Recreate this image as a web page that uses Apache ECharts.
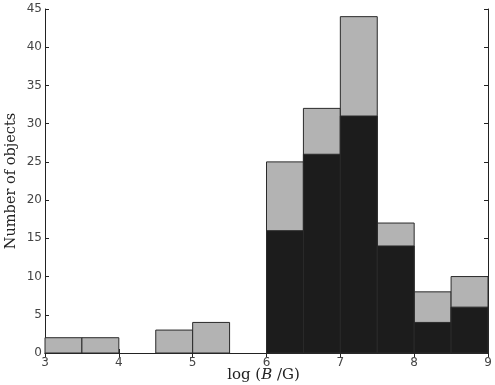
<!DOCTYPE html>
<html>
<head>
<meta charset="utf-8">
<style>
  html, body { margin: 0; padding: 0; background: #fff; }
  #chart { width: 495px; height: 385px; }
</style>
<script src="https://cdn.jsdelivr.net/npm/echarts@6/dist/echarts.min.js"></script>
</head>
<body>
<div id="chart"></div>
<script>
// bin edges (log B/G), width 0.5
const binStart = [3.0, 3.5, 4.5, 5.0, 6.0, 6.5, 7.0, 7.5, 8.0, 8.5];
const binEnd = [3.5, 4.0, 5.0, 5.5, 6.5, 7.0, 7.5, 8.0, 8.5, 9.0];
// total counts (grey) and subset counts (black)
const totalCounts = [2, 2, 3, 4, 25, 32, 44, 17, 8, 10];
const subsetCounts = [0, 0, 0, 0, 16, 26, 31, 14, 4, 6];

const xTicks = [3, 4, 5, 6, 7, 8, 9];
const yTicks = [0, 5, 10, 15, 20, 25, 30, 35, 40, 45];

const frame = "#222";

const rectItem = (fill) => (params, api) => {
  const p0 = api.coord([api.value(0), 0]);
  const p1 = api.coord([api.value(1), api.value(2)]);
  if (api.value(2) <= 0) return null;
  return {
    type: "rect",
    shape: { x: p0[0], y: p1[1], width: p1[0] - p0[0], height: p0[1] - p1[1] },
    style: { fill: fill, stroke: "#2a2a2a", lineWidth: 1 }
  };
};

const chartDom = echarts.init(document.getElementById("chart"));
chartDom.setOption({
  animation: false,
  grid: { left: 45, right: 7, top: 9, bottom: 32, outerBoundsMode: "none", containLabel: false },
  xAxis: [
    {
      type: "value",
      min: 3,
      max: 9,
      interval: 1,
      axisLine: { lineStyle: { color: frame, width: 1 } },
      axisTick: { inside: true, length: 4, lineStyle: { color: frame } },
      splitLine: { show: false },
      axisLabel: {
        color: "#444",
        fontFamily: "DejaVu Sans",
        fontSize: 12,
        margin: 4,
        formatter: v => (xTicks.includes(v) ? String(v) : "")
      },
      name: "{n|log (}{i|B}{n| /G)}",
      nameLocation: "middle",
      nameGap: 15,
      nameMoveOverlap: false,
      nameTextStyle: {
        padding: [0, 6, 0, 0],
        rich: {
          n: { fontFamily: "DejaVu Serif", fontSize: 15, color: "#222" },
          i: { fontFamily: "DejaVu Serif", fontStyle: "italic", fontSize: 15, color: "#222" }
        }
      }
    },
    {
      type: "value",
      position: "top",
      min: 3,
      max: 9,
      interval: 1,
      axisLine: { lineStyle: { color: frame, width: 1 } },
      axisTick: { inside: true, length: 4, lineStyle: { color: frame } },
      axisLabel: { show: false },
      splitLine: { show: false }
    }
  ],
  yAxis: [
    {
      type: "value",
      min: 0,
      max: 45,
      interval: 5,
      axisLine: { show: true, lineStyle: { color: frame, width: 1 } },
      axisTick: { show: true, inside: true, length: 4, lineStyle: { color: frame } },
      splitLine: { show: false },
      axisLabel: {
        color: "#444",
        fontFamily: "DejaVu Sans",
        fontSize: 12,
        margin: 3
      },
      name: "Number of objects",
      nameLocation: "middle",
      nameGap: 26,
      nameMoveOverlap: false,
      nameTextStyle: { fontFamily: "DejaVu Serif", fontSize: 14.5, color: "#222" }
    },
    {
      type: "value",
      position: "right",
      min: 0,
      max: 45,
      interval: 5,
      axisLine: { show: true, lineStyle: { color: frame, width: 1 } },
      axisTick: { show: true, inside: true, length: 4, lineStyle: { color: frame } },
      axisLabel: { show: false },
      splitLine: { show: false }
    }
  ],
  series: [
    {
      type: "custom",
      renderItem: rectItem("#b3b3b3"),
      encode: { x: [0, 1], y: 2 },
      data: binStart.map((s, i) => [s, binEnd[i], totalCounts[i]])
    },
    {
      type: "custom",
      renderItem: rectItem("#1c1c1c"),
      encode: { x: [0, 1], y: 2 },
      data: binStart.map((s, i) => [s, binEnd[i], subsetCounts[i]])
    }
  ]
});
</script>
</body>
</html>
